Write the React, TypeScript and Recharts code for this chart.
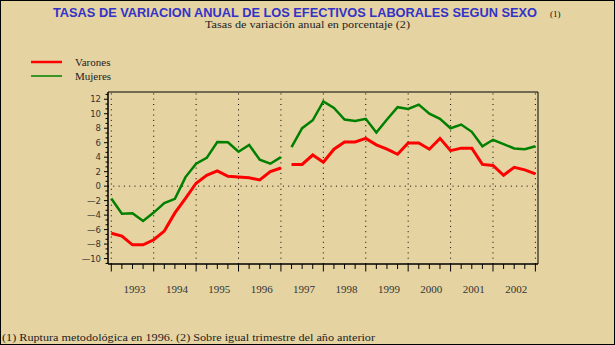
import { LineChart, Line, XAxis, YAxis, ReferenceLine, ReferenceArea } from 'recharts';

// Años (etiquetas del eje X) y trimestres: punto 0 = inicio 1993, punto 40 = final 2002
const years = ['1993', '1994', '1995', '1996', '1997', '1998', '1999', '2000', '2001', '2002'];
const yLabels = [-10, -8, -6, -4, -2, 0, 2, 4, 6, 8, 10, 12];

// Tasas trimestrales (ruptura metodológica tras el punto 16)
const varones = [
    -6.5, -6.9, -8.1, -8.1, -7.4, -6.2, -3.7, -1.7, 0.4, 1.5, 2.1, 1.35, 1.25, 1.15, 0.85, 2.0, 2.5,
    3.0, 3.0, 4.3, 3.3, 5.1, 6.1, 6.1, 6.6, 5.7, 5.1, 4.4, 5.95, 5.95, 5.1, 6.6, 4.9, 5.25, 5.25, 3.0, 2.85, 1.5, 2.6, 2.25, 1.7,
];
const mujeres = [
    -1.7, -3.8, -3.75, -4.8, -3.65, -2.35, -1.75, 1.25, 3.1, 3.9, 6.1, 6.05, 4.75, 5.7, 3.65, 3.1, 4.0,
    5.4, 8.0, 9.1, 11.7, 10.8, 9.2, 9.0, 9.3, 7.4, 9.2, 10.9, 10.65, 11.25, 10.0, 9.3, 8.0, 8.5, 7.5, 5.5, 6.4, 5.8, 5.2, 5.1, 5.5,
];
const breakAfter = 16;

const BG = '#E5D3A2';

// tabla para recharts, con una fila vacía en la ruptura
const data: { q: number; varones: number | null; mujeres: number | null }[] = [];
varones.forEach((v, i) => {
    data.push({ q: i, varones: v, mujeres: mujeres[i] });
    if (i === breakAfter) data.push({ q: i + 0.5, varones: null, mujeres: null });
});

const quarterTicks = varones.map((_v, i) => i);
const yearLines = quarterTicks.filter((t) => t % 4 === 0);
// marcas menores del eje Y: tres por cada intervalo de etiquetas
const yTicks: number[] = [];
for (let k = -1; k <= 34; k++) yTicks.push(-10 + (k * 2) / 3);

const XTick = (props: any) => {
    const { x, y, payload } = props;
    const v = payload.value as number;
    const major = v % 4 === 0;
    const label = v % 4 === 2 ? years[(v - 2) / 4] : null;
    return (
        <g>
            <line x1={x} x2={x} y1={y} y2={y + (major ? 7.5 : 5)} stroke="#000" strokeWidth={1} />
            {label && (
                <text x={x + 2} y={y + 29} textAnchor="middle" fontSize={10.5} fontFamily="Liberation Serif"
                    fill="#333" textLength={22} lengthAdjust="spacingAndGlyphs">
                    {label}
                </text>
            )}
        </g>
    );
};

const YTick = (props: any) => {
    const { x, y, payload } = props;
    const v = payload.value as number;
    const r = Math.round(v);
    const isLabel = Math.abs(v - r) < 1e-6 && yLabels.includes(r);
    const ax = x + 7;
    const txt = r < 0 ? '\u2014' + Math.abs(r) : String(r);
    return (
        <g>
            <line x1={ax - (isLabel ? 4 : 2.5)} x2={ax} y1={y} y2={y} stroke="#000" strokeWidth={1} />
            {isLabel && (
                <text x={x} y={y + 3} textAnchor="end" fontSize={8.5} fontFamily="DejaVu Sans" fill="#333">
                    {txt}
                </text>
            )}
        </g>
    );
};

export default function App() {
    return (
        <div style={{ position: 'fixed', left: 0, top: 0, width: 615, height: 345, background: BG,
            boxSizing: 'border-box', border: '1px solid #000', overflow: 'hidden' }}>
            <div style={{ position: 'absolute', left: -1, top: -1 }}>
                <LineChart width={615} height={345} data={data}
                    margin={{ top: 92, right: 77, bottom: 51, left: 68 }}>
                    <XAxis dataKey="q" type="number" domain={[-0.31, 40.245]} allowDataOverflow
                        ticks={quarterTicks} interval={0} tick={<XTick />} tickLine={false}
                        tickSize={0} tickMargin={0} height={30} axisLine={{ stroke: '#000', strokeWidth: 1.2 }} />
                    <YAxis type="number" domain={[-10.75, 13]} allowDataOverflow ticks={yTicks} interval={0}
                        tick={<YTick />} tickLine={false} tickSize={0} tickMargin={7} width={40}
                        axisLine={{ stroke: '#000' }} />
                    <ReferenceArea x1={-0.31} x2={40.245} y1={-10.75} y2={13} fill="none" stroke="#000"
                        strokeWidth={1} ifOverflow="visible" />
                    <ReferenceLine y={0} stroke="#000" strokeDasharray="1 4.3" />
                    {yearLines.map((t) => (
                        <ReferenceLine key={t} x={t} stroke="#000" strokeDasharray="1 4.3" />
                    ))}
                    <Line type="linear" dataKey="varones" name="Varones" stroke="#FF0000" strokeWidth={3}
                        dot={false} isAnimationActive={false} />
                    <Line type="linear" dataKey="mujeres" name="Mujeres" stroke="#008000" strokeWidth={2.5}
                        dot={false} isAnimationActive={false} />
                </LineChart>
            </div>
            <svg width={615} height={345} style={{ position: 'absolute', left: -1, top: -1, pointerEvents: 'none' }}>
                <text x={53} y={17} fontSize={12.5} fontWeight="bold" fontFamily="Liberation Sans" fill="#3232C8"
                    textLength={484} lengthAdjust="spacingAndGlyphs">
                    TASAS DE VARIACION ANUAL DE LOS EFECTIVOS LABORALES SEGUN SEXO
                </text>
                <text x={550} y={17} fontSize={9} fontFamily="Liberation Serif" fill="#111">(1)</text>
                <text x={205} y={27.5} fontSize={9.5} fontFamily="Liberation Serif" fill="#222"
                    textLength={205} lengthAdjust="spacingAndGlyphs">
                    Tasas de variación anual en porcentaje (2)
                </text>
                {/* leyenda */}
                <line x1={31} x2={62} y1={62} y2={62} stroke="#FF0000" strokeWidth={2.5} />
                <text x={75} y={66} fontSize={11} fontFamily="Liberation Serif" fill="#222">Varones</text>
                <line x1={31} x2={62} y1={76} y2={76} stroke="#008000" strokeWidth={1.5} />
                <text x={75} y={80} fontSize={11} fontFamily="Liberation Serif" fill="#222">Mujeres</text>
                <text x={2} y={341} fontSize={9.5} fontFamily="Liberation Serif" fill="#222"
                    textLength={373} lengthAdjust="spacingAndGlyphs">
                    (1) Ruptura metodológica en 1996.  (2) Sobre igual trimestre del año anterior
                </text>
            </svg>
        </div>
    );
}
